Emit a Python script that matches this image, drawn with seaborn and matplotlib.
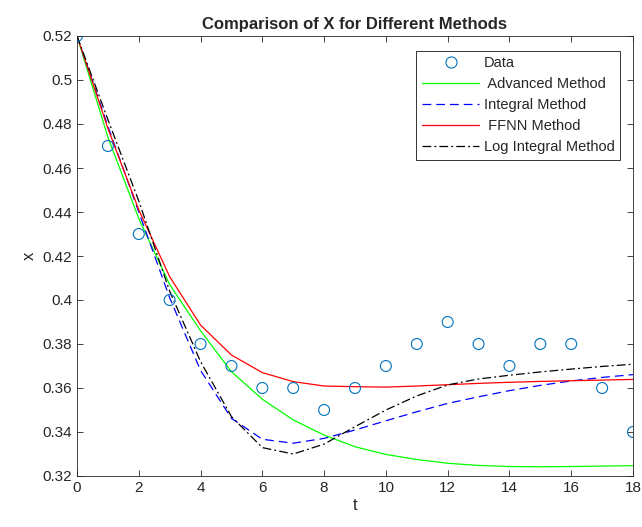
import numpy as np
import matplotlib
matplotlib.use('Agg')
import matplotlib.pyplot as plt
import seaborn as sns
from matplotlib.ticker import FormatStrFormatter
from matplotlib.lines import Line2D

# values
t = list(range(19))
data_x = [0.52, 0.47, 0.43, 0.40, 0.38, 0.37, 0.36, 0.36, 0.35, 0.36,
          0.37, 0.38, 0.39, 0.38, 0.37, 0.38, 0.38, 0.36, 0.34]
advanced = [0.52, 0.474, 0.437, 0.407, 0.386, 0.3674, 0.3549, 0.3455, 0.3386, 0.3333,
            0.3298, 0.3275, 0.3258, 0.3248, 0.3243, 0.3242, 0.3243, 0.3245, 0.3247]
integral = [0.52, 0.479, 0.440, 0.401, 0.368, 0.3462, 0.3367, 0.3349, 0.3371, 0.3409,
            0.3451, 0.3492, 0.3530, 0.3560, 0.3588, 0.3612, 0.3632, 0.3648, 0.3661]
ffnn = [0.52, 0.478, 0.441, 0.4106, 0.3886, 0.375, 0.367, 0.3629, 0.3609, 0.3606,
        0.3604, 0.3609, 0.3615, 0.3621, 0.3626, 0.3630, 0.3633, 0.3636, 0.3639]
log_integral = [0.52, 0.482, 0.445, 0.404, 0.372, 0.347, 0.3329, 0.3300, 0.3345, 0.3424,
                0.3500, 0.3564, 0.3614, 0.3641, 0.3658, 0.3673, 0.3686, 0.3698, 0.3708]

sns.set_style('white')
plt.rcParams['font.family'] = ['Liberation Sans', 'DejaVu Sans']

fig = plt.figure(figsize=(6.42, 5.27), dpi=100)
ax = fig.add_axes([77 / 642, 1 - 476 / 527, (633 - 77) / 642, (476 - 36) / 527])

sns.scatterplot(x=t, y=data_x, ax=ax, marker='o', s=62, facecolors='none',
                edgecolor='#0072BD', linewidth=0.8, label='Data', zorder=5)
sns.lineplot(x=t, y=advanced, ax=ax, color='#00FF00', linewidth=0.9, label=' Advanced Method')
sns.lineplot(x=t, y=integral, ax=ax, color='#0000FF', linewidth=0.9, label='Integral Method')
ax.lines[-1].set_dashes([7, 4])
sns.lineplot(x=t, y=ffnn, ax=ax, color='#FF0000', linewidth=0.9, label=' FFNN Method')
sns.lineplot(x=t, y=log_integral, ax=ax, color='black', linewidth=0.9, label='Log Integral Method')
ax.lines[-1].set_dashes([7, 2.5, 1.5, 2.5])

ax.set_xlim(0, 18)
ax.set_ylim(0.32, 0.52)
ax.set_xticks(range(0, 19, 2))
ax.set_yticks(np.arange(0.32, 0.5201, 0.02))
ax.yaxis.set_major_formatter(FormatStrFormatter('%g'))
ax.tick_params(direction='in', length=4, width=0.6, labelsize=11, colors='#262626',
               top=True, right=True, left=True, bottom=True)
for s in ax.spines.values():
    s.set_linewidth(0.6)
    s.set_color('#262626')

ax.set_title('Comparison of X for Different Methods', fontsize=12, fontweight='bold', pad=5)
ax.set_xlabel('t', fontsize=12, labelpad=2)
ax.set_ylabel('x', fontsize=12, labelpad=4)

# legend: Data first, shown as a single open circle
handles, labels = ax.get_legend_handles_labels()
handles[0] = Line2D([], [], linestyle='none', marker='o', markersize=8,
                    markerfacecolor='none', markeredgecolor='#0072BD', markeredgewidth=0.8)
leg = ax.legend(handles, labels, loc='upper right', bbox_to_anchor=(0.977, 0.967),
                fontsize=10.5, frameon=True, fancybox=False, edgecolor='black',
                handlelength=3.9, handletextpad=0.3, borderpad=0.4, labelspacing=0.48,
                borderaxespad=0)
leg.get_frame().set_linewidth(0.7)

fig.savefig('out.png', dpi=100)
